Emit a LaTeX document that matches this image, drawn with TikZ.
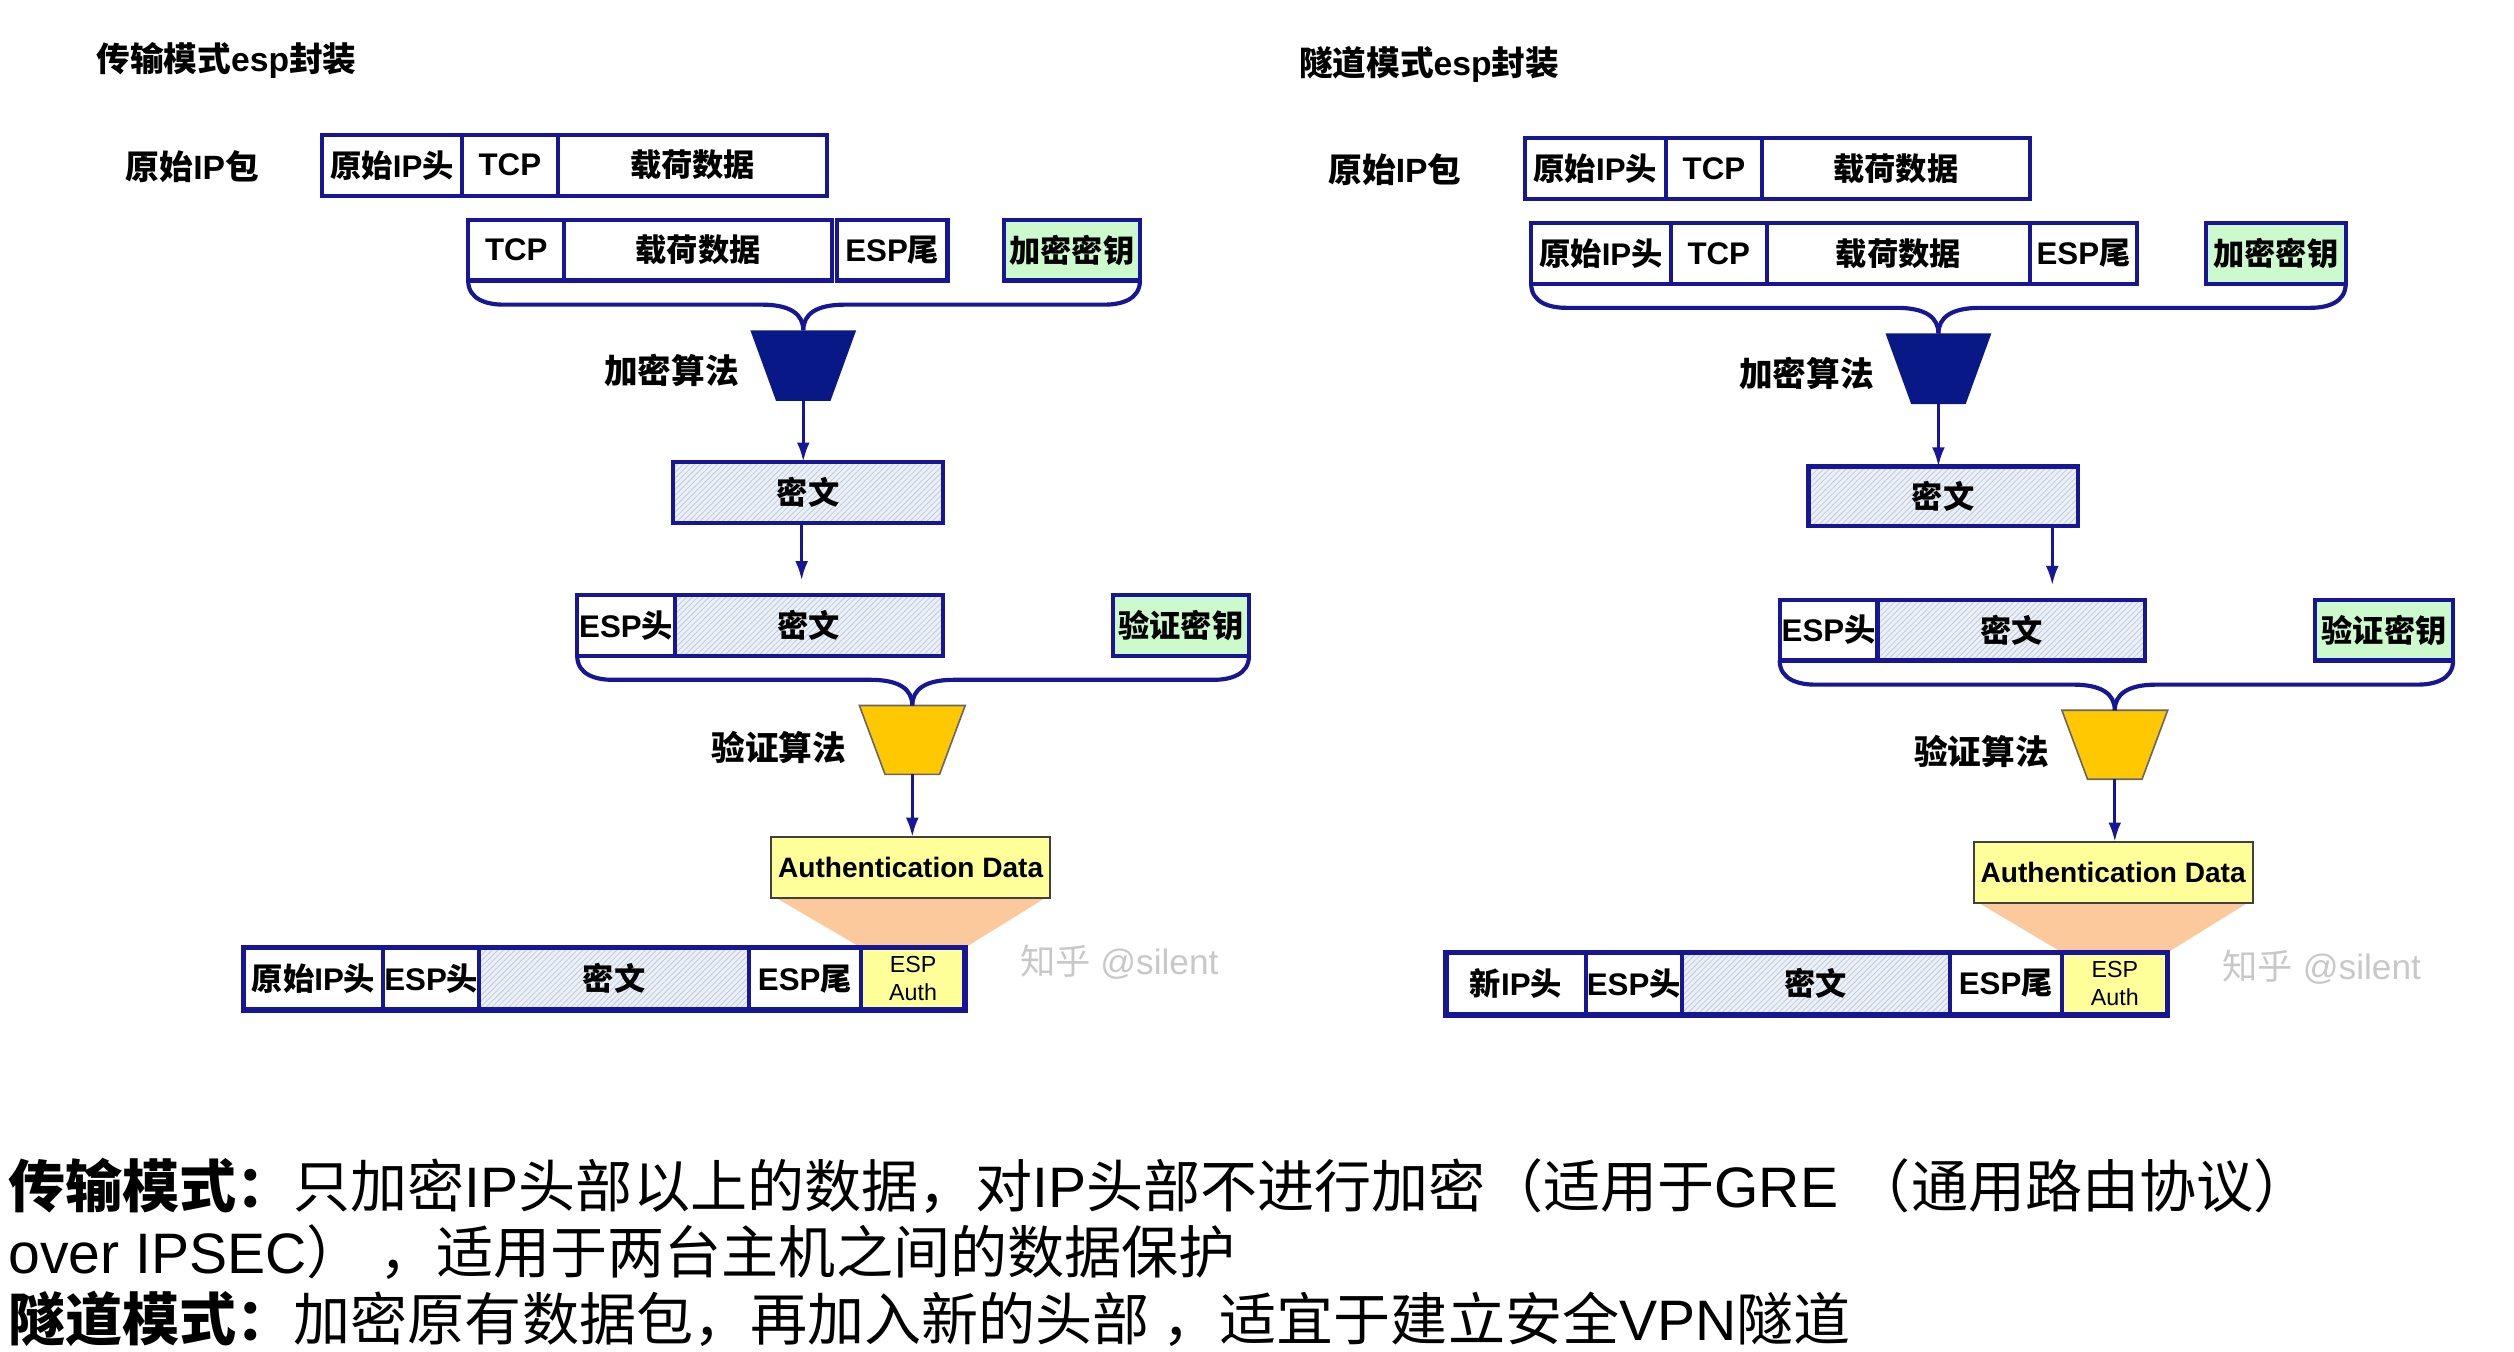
\documentclass[tikz,border=0pt]{standalone}
\usepackage{fontspec}
\setmainfont{Liberation Sans}
\newfontfamily\cjk{Noto Sans CJK SC}
\usetikzlibrary{patterns.meta,arrows.meta,calc}
\pgfdeclarelayer{background}
\pgfsetlayers{background,main}
\definecolor{pblue}{RGB}{22,22,150}
\definecolor{fblue}{RGB}{8,24,135}
\definecolor{kgreen}{RGB}{204,250,204}
\definecolor{hatchbg}{RGB}{236,241,248}
\definecolor{hatchln}{RGB}{192,202,220}
\definecolor{gold}{RGB}{255,200,0}
\definecolor{ayellow}{RGB}{255,255,153}
\definecolor{peach}{RGB}{251,201,156}
\definecolor{wmgray}{RGB}{200,200,200}
\newcommand\zh[1]{{\cjk #1}}
\newcommand\fsz[1]{\fontsize{#1}{#1}\selectfont}
% box node: style, x1, y1, x2, y2, name, text
\newcommand\boxnode[7]{%
  \pgfmathsetmacro\bxcx{(#2+#4)/2}%
  \pgfmathsetmacro\bxcy{(#3+#5)/2}%
  \pgfmathsetmacro\bxw{#4-#2}%
  \pgfmathsetmacro\bxh{#5-#3}%
  \node[#1, minimum width=\bxw pt, minimum height=\bxh pt] (#6) at (\bxcx,\bxcy) {#7};}
\newcommand\bracedraw[3]{%
  \draw[brc] (#1) .. controls +(0,12) and +(-10,0) .. ($(#1)+(22,15)$) -- ($(#3|-#1)+(-26,15)$) .. controls +(18,0) and +(0,-10) .. (#3);
  \draw[brc] (#2) .. controls +(0,12) and +(10,0) .. ($(#2)+(-22,15)$) -- ($(#3|-#2)+(26,15)$) .. controls +(-18,0) and +(0,-10) .. (#3);}
\begin{document}
\begin{tikzpicture}[x=1pt,y=-1pt,
  cell/.style={draw=pblue, line width=2.6pt, fill=white, inner sep=0pt, outer sep=0pt, font=\fsz{19.5}\bfseries},
  hcell/.style={draw=pblue, line width=2.6pt, inner sep=0pt, outer sep=0pt, font=\fsz{19.5}\bfseries, preaction={fill=hatchbg}, pattern={Lines[angle=45,distance=2.5pt,line width=0.5pt]}, pattern color=hatchln},
  kcell/.style={cell, fill=kgreen},
  acell/.style={cell, fill=ayellow, font=\fontsize{14.5}{17.5}\selectfont, align=center},
  adbox/.style={draw=black!75, line width=1.2pt, fill=ayellow, inner sep=0pt, outer sep=0pt, font=\fsz{17.5}\bfseries},
  lbl/.style={inner sep=0pt, font=\fsz{21}\bfseries},
  fbox/.style={inner sep=0pt, outer sep=0pt},
  brc/.style={draw=pblue, line width=2.6pt},
  arr/.style={draw=pblue, line width=1.9pt, -{Latex[length=12pt,width=8pt]}},
  outer/.style={draw=pblue, line width=3.4pt},
  wm/.style={inner sep=0pt, anchor=west, text=wmgray, font=\fsz{22}},
  desc/.style={inner sep=0pt, anchor=base west, font=\fsz{35.6}}
]
\path[use as bounding box] (0,0) rectangle (1568,843);

% ================= LEFT: transport mode =================
\node[lbl, anchor=west] (t1) at (60,38) {\zh{传输模式}esp\zh{封装}};
\node[lbl] (p1) at (120,104) {\zh{原始}IP\zh{包}};

\boxnode{cell}{201}{84}{288}{122}{a1}{\zh{原始}IP\zh{头}}
\boxnode{cell}{288}{84}{348}{122}{a2}{TCP}
\boxnode{cell}{348}{84}{516}{122}{a3}{\zh{载荷数据}}

\boxnode{cell}{292}{137}{352}{175}{b1}{TCP}
\boxnode{cell}{352}{137}{519}{175}{b2}{\zh{载荷数据}}
\boxnode{cell}{522}{137}{591}{175}{b3}{ESP\zh{尾}}
\boxnode{kcell}{626}{137}{711}{175}{bk}{\zh{加密密钥}}

\boxnode{fbox}{468}{206}{534}{250}{f1}{}
\fill[fblue] (f1.north west) -- (f1.north east) -- ($(f1.south east)+(-16,0)$) -- ($(f1.south west)+(16,0)$) -- cycle;
\node[lbl, anchor=east] (la1) at (461,231) {\zh{加密算法}};

\boxnode{hcell}{420}{288}{588}{326}{c1}{\zh{密文}}

\boxnode{cell}{360}{371}{421}{409}{d1}{ESP\zh{头}}
\boxnode{hcell}{421}{371}{588}{409}{d2}{\zh{密文}}
\boxnode{kcell}{694}{371}{779}{409}{dk}{\zh{验证密钥}}

\boxnode{fbox}{536}{440}{602}{483}{g1}{}
\filldraw[fill=gold, draw=black!60, line width=1pt] (g1.north west) -- (g1.north east) -- ($(g1.south east)+(-16,0)$) -- ($(g1.south west)+(16,0)$) -- cycle;
\node[lbl, anchor=east] (lv1) at (528,466) {\zh{验证算法}};

\boxnode{adbox}{481}{522}{655}{560}{ad1}{Authentication Data}

\boxnode{cell}{152}{591}{239}{630}{z1}{\zh{原始}IP\zh{头}}
\boxnode{cell}{239}{591}{299}{630}{z2}{ESP\zh{头}}
\boxnode{hcell}{299}{591}{467}{630}{z3}{\zh{密文}}
\boxnode{cell}{467}{591}{537}{630}{z4}{ESP\zh{尾}}
\boxnode{acell}{537}{591}{602}{630}{z5}{ESP\\Auth}
\draw[outer] (z1.north west) rectangle (z5.south east);

\node[wm] (w1) at (636,600) {\zh{知乎} @silent};

\begin{pgfonlayer}{background}
\fill[peach] ($(ad1.south west)+(3,0)$) -- ($(ad1.south east)+(-3,0)$) -- (z5.north east) -- (z5.north west) -- cycle;
\end{pgfonlayer}

\bracedraw{b1.south west}{bk.south east}{f1.north}
\draw[arr] (f1.south) -- (f1.south |- c1.north);
\coordinate (c1x) at ([xshift=-4pt]c1.south);
\draw[arr, shorten >=9pt] (c1x) -- (c1x |- d2.north);
\bracedraw{d1.south west}{dk.south east}{g1.north}
\draw[arr] (g1.south) -- (g1.south |- ad1.north);

% ================= RIGHT: tunnel mode =================
\node[lbl, anchor=west] (t2) at (810,40) {\zh{隧道模式}esp\zh{封装}};
\node[lbl] (p2) at (870,106) {\zh{原始}IP\zh{包}};

\boxnode{cell}{951}{86}{1039}{124}{ra1}{\zh{原始}IP\zh{头}}
\boxnode{cell}{1039}{86}{1099}{124}{ra2}{TCP}
\boxnode{cell}{1099}{86}{1266}{124}{ra3}{\zh{载荷数据}}

\boxnode{cell}{955}{139}{1042}{177}{rb1}{\zh{原始}IP\zh{头}}
\boxnode{cell}{1042}{139}{1102}{177}{rb2}{TCP}
\boxnode{cell}{1102}{139}{1266}{177}{rb3}{\zh{载荷数据}}
\boxnode{cell}{1266}{139}{1333}{177}{rb4}{ESP\zh{尾}}
\boxnode{kcell}{1376}{139}{1463}{177}{rbk}{\zh{加密密钥}}

\boxnode{fbox}{1176}{208}{1242}{252}{f2}{}
\fill[fblue] (f2.north west) -- (f2.north east) -- ($(f2.south east)+(-16,0)$) -- ($(f2.south west)+(16,0)$) -- cycle;
\node[lbl, anchor=east] (la2) at (1169,233) {\zh{加密算法}};

\boxnode{hcell}{1128}{291}{1296}{328}{rc1}{\zh{密文}}

\boxnode{cell}{1110}{374}{1171}{412}{rd1}{ESP\zh{头}}
\boxnode{hcell}{1171}{374}{1338}{412}{rd2}{\zh{密文}}
\boxnode{kcell}{1444}{374}{1530}{412}{rdk}{\zh{验证密钥}}

\boxnode{fbox}{1286}{443}{1352}{486}{g2}{}
\filldraw[fill=gold, draw=black!60, line width=1pt] (g2.north west) -- (g2.north east) -- ($(g2.south east)+(-16,0)$) -- ($(g2.south west)+(16,0)$) -- cycle;
\node[lbl, anchor=east] (lv2) at (1278,469) {\zh{验证算法}};

\boxnode{adbox}{1231}{525}{1405}{563}{ad2}{Authentication Data}

\boxnode{cell}{902}{594}{989}{633}{rz1}{\zh{新}IP\zh{头}}
\boxnode{cell}{989}{594}{1049}{633}{rz2}{ESP\zh{头}}
\boxnode{hcell}{1049}{594}{1216}{633}{rz3}{\zh{密文}}
\boxnode{cell}{1216}{594}{1286}{633}{rz4}{ESP\zh{尾}}
\boxnode{acell}{1286}{594}{1352}{633}{rz5}{ESP\\Auth}
\draw[outer] (rz1.north west) rectangle (rz5.south east);

\node[wm] (w2) at (1386,603) {\zh{知乎} @silent};

\begin{pgfonlayer}{background}
\fill[peach] ($(ad2.south west)+(3,0)$) -- ($(ad2.south east)+(-3,0)$) -- (rz5.north east) -- (rz5.north west) -- cycle;
\end{pgfonlayer}

\bracedraw{rb1.south west}{rbk.south east}{f2.north}
\draw[arr] (f2.south) -- (f2.south |- rc1.north);
\coordinate (rc1x) at ([xshift=-16pt]rc1.south east);
\draw[arr, shorten >=9pt] (rc1x) -- (rc1x |- rd2.north);
\bracedraw{rd1.south west}{rdk.south east}{g2.north}
\draw[arr] (g2.south) -- (g2.south |- ad2.north);

% ================= description =================
\node[desc] (tx1) at (5,753) {\textbf{\zh{传输模式：}}\zh{只加密}IP\zh{头部以上的数据，对}IP\zh{头部不进行加密（适用于}GRE \zh{（通用路由协议）}};
\node[desc] (tx2) at (5,794) {over IPSEC\zh{）} \zh{，适用于两台主机之间的数据保护}};
\node[desc] (tx3) at (5,836) {\textbf{\zh{隧道模式：}}\zh{加密原有数据包，再加入新的头部 ，适宜于建立安全}VPN\zh{隧道}};
\end{tikzpicture}
\end{document}
